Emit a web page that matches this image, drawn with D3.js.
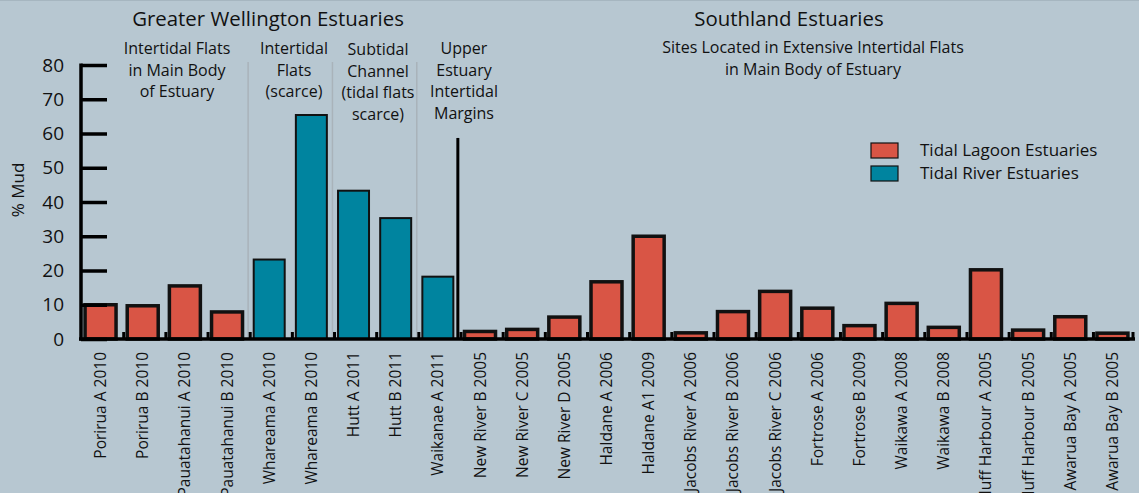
<!DOCTYPE html>
<html>
<head>
<meta charset="utf-8">
<script src="https://cdn.jsdelivr.net/npm/d3@7"></script>
<style>
  html, body { margin: 0; padding: 0; background: #b7c7d1; }
  svg { display: block; font-family: "Open Sans", Lato, sans-serif; }
</style>
</head>
<body>
<div id="chart"></div>
<script>
// site names along the x axis
const sites = [
  "Porirua A 2010", "Porirua B 2010", "Pauatahanui A 2010", "Pauatahanui B 2010",
  "Whareama A 2010", "Whareama B 2010", "Hutt A 2011", "Hutt B 2011",
  "Waikanae A 2011", "New River B 2005", "New River C 2005", "New River D 2005",
  "Haldane A 2006", "Haldane A1  2009", "Jacobs River A 2006", "Jacobs River B 2006",
  "Jacobs River C 2006", "Fortrose A 2006", "Fortrose B 2009", "Waikawa A 2008",
  "Waikawa B 2008", "Bluff Harbour A 2005", "Bluff Harbour B 2005", "Awarua Bay A 2005",
  "Awarua Bay B 2005"
];
const mud = [
  10, 9.7, 15.5, 7.9,
  23.2, 65.4, 43.3, 35.3,
  18.2, 2.2, 2.8, 6.4,
  16.7, 30, 1.8, 8,
  13.9, 9, 3.9, 10.4,
  3.4, 20.2, 2.6, 6.5,
  1.7
];
const estuaryType = [
  "lagoon", "lagoon", "lagoon", "lagoon",
  "river", "river", "river", "river",
  "river", "lagoon", "lagoon", "lagoon",
  "lagoon", "lagoon", "lagoon", "lagoon",
  "lagoon", "lagoon", "lagoon", "lagoon",
  "lagoon", "lagoon", "lagoon", "lagoon",
  "lagoon"
];
const yTicks = [0, 10, 20, 30, 40, 50, 60, 70, 80];
const legendLabels = ["Tidal Lagoon Estuaries", "Tidal River Estuaries"];

const width = 1139, height = 493;
const colors = { lagoon: "#d95545", river: "#00849f" };

const svg = d3.select("#chart").append("svg")
  .attr("width", width)
  .attr("height", height);

svg.append("rect").attr("width", width).attr("height", height).attr("fill", "#b7c7d1");
svg.append("line").attr("x1", 0).attr("x2", width).attr("y1", 0.5).attr("y2", 0.5)
  .attr("stroke", "#a6b6c0").attr("stroke-width", 1);

// scales
const x = d3.scaleBand()
  .domain(sites)
  .range([80, 1133])
  .paddingInner(0.265)
  .paddingOuter(0.12);

const y = d3.scaleLinear()
  .domain([0, 80])
  .range([339, 65]);

// grey separators between habitat groups
const seps = [sites[3], sites[5], sites[7]];
svg.selectAll("line.sep").data(seps).enter().append("line")
  .attr("class", "sep")
  .attr("x1", d => x(d) + x.bandwidth() + x.step() * x.paddingInner() / 2)
  .attr("x2", d => x(d) + x.bandwidth() + x.step() * x.paddingInner() / 2)
  .attr("y1", 62)
  .attr("y2", y(0))
  .attr("stroke", "#a9b3ba")
  .attr("stroke-width", 1.5);

// bars
svg.selectAll("rect.bar").data(sites).enter().append("rect")
  .attr("class", "bar")
  .attr("x", d => x(d))
  .attr("width", x.bandwidth())
  .attr("y", (d, i) => y(mud[i]))
  .attr("height", (d, i) => y(0) - y(mud[i]))
  .attr("fill", (d, i) => colors[estuaryType[i]])
  .attr("stroke", "#111")
  .attr("stroke-width", (d, i) => estuaryType[i] === "river" ? 2 : 3.5);

// black divider between regions
const divX = x(sites[8]) + x.bandwidth() + 4.5;
svg.append("line")
  .attr("x1", divX).attr("x2", divX)
  .attr("y1", y(58.7)).attr("y2", y(0))
  .attr("stroke", "#000").attr("stroke-width", 3);

// x axis baseline with small ticks between bars
svg.append("line")
  .attr("x1", 79).attr("x2", 1135)
  .attr("y1", y(0)).attr("y2", y(0))
  .attr("stroke", "#000").attr("stroke-width", 3.5);

const tickPos = sites.slice(1).map(s => x(s) - 3.5).concat([1133]);
svg.selectAll("rect.xtick").data(tickPos).enter().append("rect")
  .attr("class", "xtick")
  .attr("x", d => d - 1.5)
  .attr("y", y(0) - 7)
  .attr("width", 3)
  .attr("height", 7)
  .attr("fill", "#000");

// x labels
svg.selectAll("text.xlab").data(sites).enter().append("text")
  .attr("class", "xlab")
  .attr("transform", d => `translate(${x(d) + x.bandwidth() / 2 + 5.5},352) rotate(-90)`)
  .attr("text-anchor", "end")
  .attr("font-size", 15.5)
  .attr("fill", "#111")
  .text(d => d);

// y axis
const yAxis = d3.axisLeft(y).tickValues(yTicks).tickSize(0).tickPadding(0);
const gy = svg.append("g").attr("transform", "translate(81,0)").call(yAxis);
gy.select(".domain").remove();
gy.selectAll(".tick text")
  .attr("x", -17)
  .attr("font-size", 19)
  .attr("font-family", "'Open Sans', sans-serif")
  .attr("fill", "#111");
gy.selectAll(".tick").append("line")
  .attr("x1", 0).attr("x2", 26)
  .attr("stroke", "#000").attr("stroke-width", 3.5);
svg.append("line")
  .attr("x1", 81).attr("x2", 81)
  .attr("y1", y(80) - 1.5).attr("y2", y(0) + 1.5)
  .attr("stroke", "#000").attr("stroke-width", 3.5);

svg.append("text")
  .attr("transform", `translate(24,${190}) rotate(-90)`)
  .attr("text-anchor", "middle")
  .attr("font-size", 17)
  .attr("fill", "#111")
  .text("% Mud");

// header text
function block(lines, cx, y0, size, lh) {
  const t = svg.append("text")
    .attr("text-anchor", "middle")
    .attr("font-size", size)
    .attr("fill", "#111");
  lines.forEach((l, i) => {
    t.append("tspan").attr("x", cx).attr("y", y0 + i * lh).text(l);
  });
}
block(["Greater Wellington Estuaries"], 268, 26, 20.4, 0);
block(["Southland Estuaries"], 789, 26, 20.4, 0);
block(["Intertidal Flats", "in Main Body", "of Estuary"], 177, 54, 16, 21.5);
block(["Intertidal", "Flats", "(scarce)"], 294, 54, 16, 21.5);
block(["Subtidal", "Channel", "(tidal flats", "scarce)"], 378, 55, 16, 21.5);
block(["Upper", "Estuary", "Intertidal", "Margins"], 464, 54, 16, 21.5);
block(["Sites Located in Extensive Intertidal Flats", "in Main Body of Estuary"], 813, 53, 16, 21.5);

// legend
const legend = svg.append("g").attr("transform", "translate(871,143)");
["lagoon", "river"].forEach((k, i) => {
  legend.append("rect")
    .attr("x", 0).attr("y", i * 23)
    .attr("width", 27).attr("height", 15)
    .attr("fill", colors[k]).attr("stroke", "#111").attr("stroke-width", 1.2);
  legend.append("text")
    .attr("x", 49).attr("y", i * 23 + 13)
    .attr("font-size", 17).attr("fill", "#111")
    .text(legendLabels[i]);
});
</script>
</body>
</html>
